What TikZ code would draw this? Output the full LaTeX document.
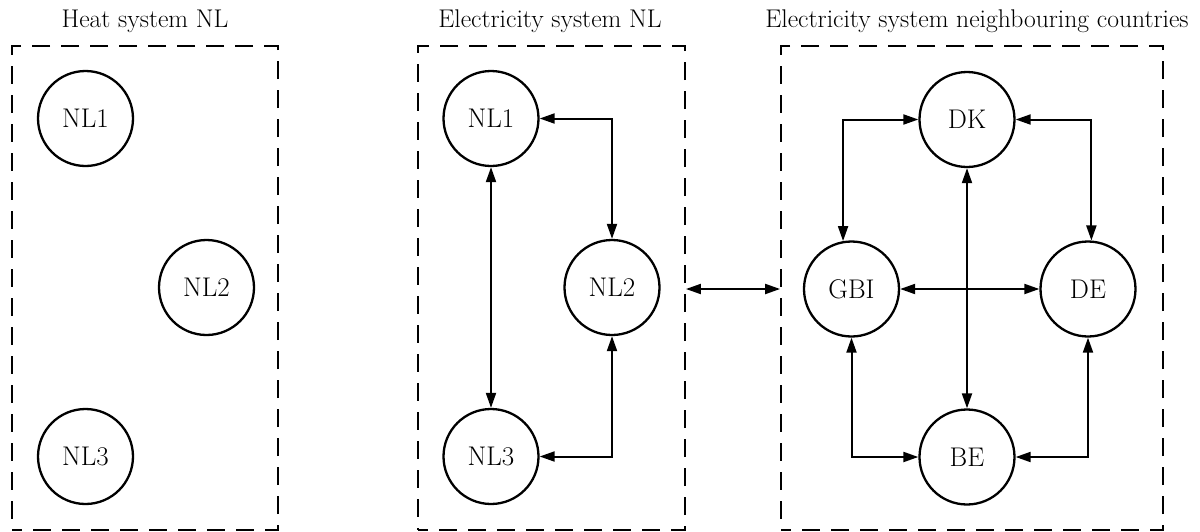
\documentclass[tikz,border=0pt]{standalone}
\usetikzlibrary{arrows.meta}
\begin{document}
\begin{tikzpicture}[x=1pt,y=-1pt,
  groupbox/.style={draw, line width=1.8pt, dash pattern=on 18pt off 11pt, dash phase=8pt, minimum width=#1, minimum height=484pt, inner sep=0pt},
  zone/.style={draw, circle, line width=2.3pt, minimum size=95pt, inner sep=0pt, font=\fontsize{27}{32}\selectfont},
  title/.style={anchor=base, font=\fontsize{25.6}{30}\selectfont, inner sep=0pt},
  link/.style={line width=2pt, {Triangle[length=15pt,width=10pt]}-{Triangle[length=15pt,width=10pt]}}
]
\useasboundingbox (0,0) rectangle (1200,531);

% group boxes
\node[groupbox=266pt] (heatbox) at (145,288) {};
\node[groupbox=267pt] (elecbox) at (551.5,288) {};
\node[groupbox=382pt] (nbbox) at (972,288) {};

% titles
\node[title] (theat) at (145,27) {Heat system NL};
\node[title] (telec) at (550,27) {Electricity system NL};
\node[title] (tnb) at (977,27) {Electricity system neighbouring countries};

% heat system nodes
\node[zone] (hNL1) at (85.5,118.5) {NL1};
\node[zone] (hNL2) at (206.5,287.5) {NL2};
\node[zone] (hNL3) at (85.5,456.5) {NL3};

% electricity NL nodes
\node[zone] (eNL1) at (491,118.5) {NL1};
\node[zone] (eNL2) at (612,287.5) {NL2};
\node[zone] (eNL3) at (491,456.5) {NL3};

% neighbouring countries
\node[zone] (DK) at (967,119.5) {DK};
\node[zone] (GBI) at (851.5,289) {GBI};
\node[zone] (DE) at (1088,289) {DE};
\node[zone] (BE) at (967,457) {BE};

% electricity NL links
\draw[link] (eNL1.east) -| (eNL2.north);
\draw[link] (eNL1.south) -- (eNL3.north);
\draw[link] (eNL3.east) -| (eNL2.south);

% inter-box link
\draw[link] (elecbox.east |- GBI.west) -- (nbbox.west |- GBI.west);

% neighbouring links
\draw[link] (GBI.100) |- (DK.west);
\draw[link] (DE.86) |- (DK.east);
\draw[link] (DK.south) -- (BE.north);
\draw[link] (GBI.east) -- (DE.west);
\draw[link] (GBI.south) |- (BE.west);
\draw[link] (DE.south) |- (BE.east);
\end{tikzpicture}
\end{document}
